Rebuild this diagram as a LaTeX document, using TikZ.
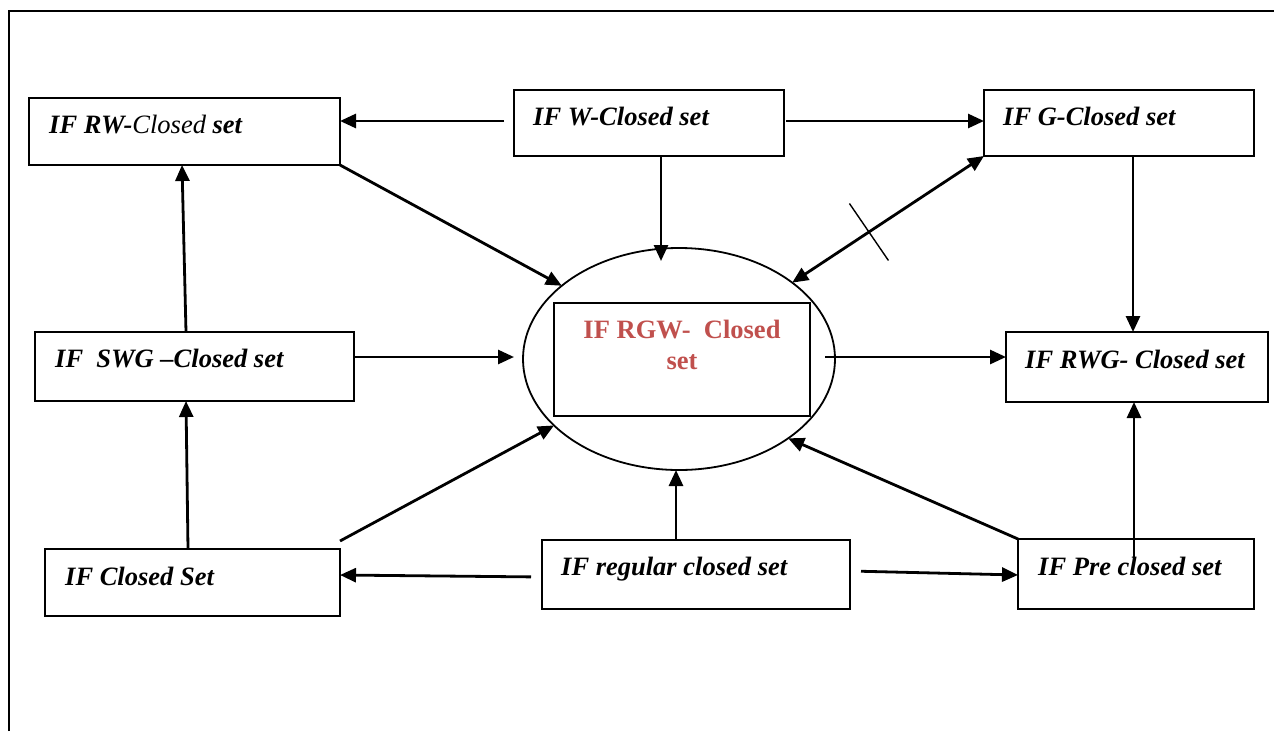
\documentclass[tikz,border=0pt]{standalone}
\usepackage{fontspec}
\setmainfont{Liberation Serif}
\usetikzlibrary{arrows.meta,shapes.geometric}
\definecolor{rgwred}{HTML}{C0504D}
\begin{document}
\begin{tikzpicture}[x=1pt,y=-1pt,
  box/.style={draw, line width=2.2pt, rectangle, anchor=north west, inner sep=0pt, outer sep=0pt},
  lbl/.style={anchor=base west, inner sep=0pt, font=\fontsize{26.5}{30}\selectfont\bfseries\itshape},
  redlbl/.style={anchor=base, inner sep=0pt, text=rgwred, font=\fontsize{26.5}{30}\selectfont\bfseries},
  tip/.tip={Triangle[length=16pt,width=14pt]},
  arr/.style={line width=2.8pt, -tip},
  dblarr/.style={line width=2.8pt, tip-tip},
]
\useasboundingbox (0,0) rectangle (1274,731);

% page frame (top and left rules)
\draw[line width=2.6pt] (9,731) -- (9,11) -- (1274,11);

% boxes
\node[box, minimum width=311pt, minimum height=67pt] (rw)  at (29,98)   {};
\node[box, minimum width=270pt, minimum height=66pt] (w)   at (514,90)  {};
\node[box, minimum width=270pt, minimum height=66pt] (g)   at (984,90)  {};
\node[box, minimum width=319pt, minimum height=69pt] (swg) at (35,332)  {};
\node[box, minimum width=262pt, minimum height=70pt] (rwg) at (1006,332) {};
\node[box, minimum width=295pt, minimum height=67pt] (cl)  at (45,549)  {};
\node[box, minimum width=308pt, minimum height=69pt] (reg) at (542,540) {};
\node[box, minimum width=236pt, minimum height=70pt] (pre) at (1018,539) {};

% central ellipse with its inner box
\node[ellipse, draw, line width=1.8pt, minimum width=312pt, minimum height=222pt,
      inner sep=0pt, outer sep=0pt] (ring) at (679,359) {};
\node[box, minimum width=256pt, minimum height=113pt] (rgw) at (554,303) {};

% labels
\node[lbl] (trw)  at (49,133)   {IF RW-{\mdseries Closed} set};
\node[lbl] (tw)   at (533,125)  {IF W-Closed set};
\node[lbl] (tg)   at (1003,125) {IF G-Closed set};
\node[lbl] (tswg) at (55,367)   {IF\ \ SWG –Closed set};
\node[lbl] (trwg) at (1025,368) {IF RWG- Closed set};
\node[lbl] (tcl)  at (65,585)   {IF Closed Set};
\node[lbl] (treg) at (561,575)  {IF regular closed set};
\node[lbl] (tpre) at (1038,575) {IF Pre closed set};
\node[redlbl] (trgw1) at (682,338) {IF RGW-\ \ Closed};
\node[redlbl] (trgw2) at (682,369) {set};

% connectors
\draw[arr, shorten <=10pt] (w.west |- 0,121) -- (rw.east |- 0,121);
\draw[arr, shorten <=2pt]  (w.east |- 0,121) -- (g.west |- 0,121);
\draw[arr, shorten >=-13pt] (w.south -| 661,0) -- (ring.north -| 661,0);
\draw[arr] (rw.south east) -- (ring.148);
\draw[dblarr] (g.south west) -- (ring.34) coordinate[pos=0.6] (cut);
\draw[line width=1.4pt] ([shift={(-19.5,-28.5)}]cut) -- ([shift={(19.5,28.5)}]cut);
\draw[arr] (g.south -| 1133,0) -- (rwg.north -| 1133,0);
\draw[arr] (swg.north -| 186,0) -- (rw.south -| 182,0);
\draw[arr, shorten <=1pt, shorten >=9pt] (swg.east |- 0,357) -- (ring.west |- 0,357);
\draw[arr, shorten <=-10pt] (ring.east |- 0,357) -- (rwg.west |- 0,357);
\draw[arr] (cl.north -| 188,0) -- (swg.south -| 186,0);
\draw[arr] ([yshift=8pt]cl.north east) -- (ring.208);
\draw[arr, shorten <=11pt] (reg.west |- 0,577) -- (cl.east |- 0,575);
\draw[arr] (reg.north -| 676,0) -- (ring.south -| 676,0);
\draw[arr, shorten <=11pt] (reg.east |- 0,571) -- (pre.west |- 0,575);
\draw[arr] (pre.north west) -- (ring.324);
\draw[arr, shorten <=-19pt] (pre.north -| 1134,0) -- (rwg.south -| 1134,0);
\end{tikzpicture}
\end{document}
